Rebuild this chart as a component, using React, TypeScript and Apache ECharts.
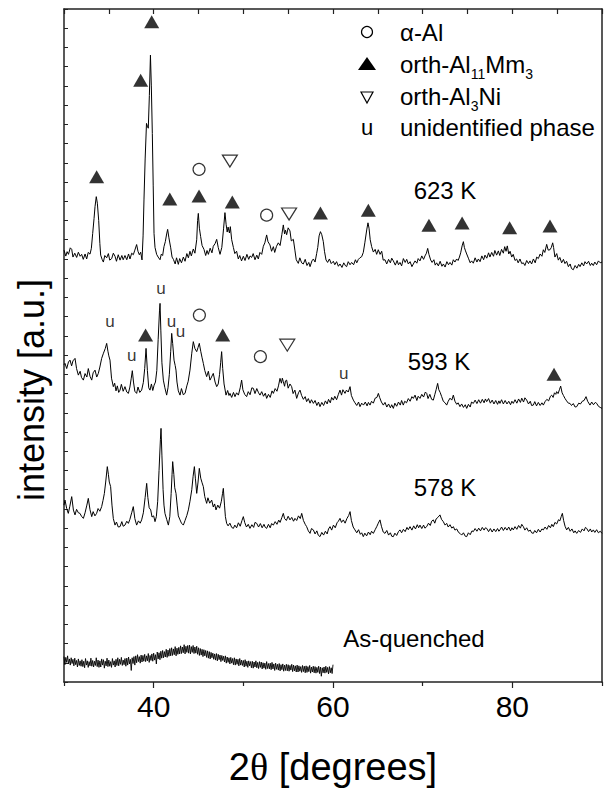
import React, { useEffect, useRef } from "react";
import * as echarts from "echarts";

const FONT = "'Liberation Sans', Arial, Helvetica, sans-serif";

// 2theta range and tick labels
const xMin = 30;
const xMax = 90;
const xLabelValues = [40, 60, 80];
const xMinorBottom = [30, 50, 70, 90];

// [2theta, intensity] pairs (intensity in arbitrary units, stacked offsets included)
const trace623: [number, number][] = [
  [30.0, 224.6], [30.2, 221.5], [30.35, 223.8], [30.5, 222.4], [30.7, 225.8], [30.86, 225.0], [31.0, 221.0], [31.2, 223.0], [31.41, 220.8], [31.6, 223.5], [31.8, 221.4], [31.97, 222.4], [32.15, 219.8], [32.35, 222.6], [32.53, 220.0], [32.7, 223.4], [32.9, 222.5], [33.05, 225.5], [33.2, 233.3], [33.35, 241.0], [33.46, 247.2], [33.6, 252.4], [33.72, 249.0], [33.87, 240.0], [34.0, 228.0], [34.09, 222.0], [34.25, 219.8], [34.39, 218.4], [34.55, 221.8], [34.76, 220.6], [34.95, 222.8], [35.1, 219.4], [35.32, 220.2], [35.5, 223.0], [35.69, 221.4], [35.85, 218.8], [36.05, 222.2], [36.25, 219.4], [36.45, 221.8], [36.6, 219.6], [36.8, 221.8], [37.0, 219.6], [37.2, 222.6], [37.36, 220.0], [37.55, 223.0], [37.73, 222.2], [37.9, 224.6], [38.1, 227.5], [38.25, 224.0], [38.4, 222.2], [38.55, 223.5], [38.7, 219.5], [38.82, 232.0], [38.92, 250.7], [39.05, 272.0], [39.2, 290.5], [39.3, 289.0], [39.4, 288.0], [39.52, 305.0], [39.64, 326.0], [39.74, 310.0], [39.85, 285.3], [39.95, 258.0], [40.04, 233.3], [40.15, 226.0], [40.33, 222.4], [40.5, 221.0], [40.71, 219.6], [40.85, 222.5], [41.0, 221.8], [41.15, 226.4], [41.3, 229.0], [41.45, 233.0], [41.56, 235.4], [41.7, 231.0], [41.9, 225.8], [42.05, 221.0], [42.2, 219.8], [42.4, 217.4], [42.55, 220.6], [42.75, 217.2], [42.9, 220.2], [43.1, 218.0], [43.31, 221.0], [43.5, 218.8], [43.7, 222.8], [43.87, 220.6], [44.05, 224.0], [44.2, 221.6], [44.42, 225.2], [44.6, 223.0], [44.8, 230.0], [44.9, 240.0], [44.98, 243.7], [45.1, 236.0], [45.24, 231.6], [45.4, 227.0], [45.61, 225.0], [45.8, 221.8], [45.95, 224.4], [46.1, 222.4], [46.3, 225.6], [46.5, 223.2], [46.65, 226.6], [46.85, 228.0], [47.03, 230.2], [47.2, 226.0], [47.4, 222.4], [47.6, 226.0], [47.8, 236.0], [47.95, 244.1], [48.08, 238.0], [48.2, 234.0], [48.3, 236.6], [48.45, 233.5], [48.55, 236.8], [48.7, 230.0], [48.89, 226.0], [49.05, 222.8], [49.25, 224.0], [49.44, 220.0], [49.6, 221.8], [49.8, 219.0], [50.0, 221.4], [50.19, 219.2], [50.4, 222.4], [50.6, 219.8], [50.75, 221.6], [50.93, 220.8], [51.1, 222.8], [51.3, 219.6], [51.5, 222.0], [51.67, 220.0], [51.85, 223.4], [52.05, 222.4], [52.23, 226.6], [52.4, 228.4], [52.6, 232.5], [52.75, 229.0], [52.97, 227.3], [53.15, 224.0], [53.35, 226.4], [53.5, 223.4], [53.7, 226.6], [53.9, 228.4], [54.1, 227.0], [54.3, 232.8], [54.46, 237.7], [54.6, 233.0], [54.7, 235.0], [54.83, 232.6], [55.0, 236.2], [55.2, 234.6], [55.35, 229.4], [55.58, 230.2], [55.75, 224.6], [55.9, 219.6], [56.13, 217.7], [56.3, 220.6], [56.5, 218.0], [56.69, 217.4], [56.9, 219.8], [57.1, 216.6], [57.3, 218.2], [57.44, 216.0], [57.65, 219.0], [57.81, 220.0], [58.0, 218.4], [58.18, 222.9], [58.3, 226.0], [58.45, 232.0], [58.6, 234.2], [58.75, 232.6], [58.92, 229.0], [59.05, 224.0], [59.22, 219.5], [59.4, 218.2], [59.6, 220.0], [59.8, 217.6], [60.04, 218.8], [60.2, 217.0], [60.4, 218.6], [60.6, 216.2], [60.78, 217.4], [61.0, 215.6], [61.2, 218.0], [61.4, 216.4], [61.52, 216.0], [61.7, 218.6], [61.9, 217.0], [62.08, 218.2], [62.3, 217.0], [62.5, 219.6], [62.65, 218.0], [62.83, 219.8], [63.0, 220.6], [63.2, 221.2], [63.38, 223.4], [63.55, 228.4], [63.76, 235.1], [63.9, 238.8], [64.02, 236.0], [64.15, 230.0], [64.31, 226.4], [64.5, 223.6], [64.7, 225.0], [64.87, 222.4], [65.05, 224.8], [65.25, 222.4], [65.43, 224.0], [65.6, 219.4], [65.8, 219.6], [65.99, 217.4], [66.2, 219.8], [66.4, 218.0], [66.55, 220.4], [66.73, 219.0], [66.95, 216.8], [67.15, 219.2], [67.3, 217.0], [67.47, 218.2], [67.65, 216.4], [67.85, 220.2], [68.05, 218.2], [68.22, 219.8], [68.4, 217.4], [68.6, 218.6], [68.8, 216.0], [68.96, 217.4], [69.15, 219.0], [69.35, 217.8], [69.5, 220.2], [69.7, 219.0], [69.9, 221.6], [70.1, 219.8], [70.26, 221.6], [70.42, 223.0], [70.56, 225.5], [70.7, 222.4], [70.89, 219.5], [71.05, 218.2], [71.25, 219.6], [71.4, 216.8], [71.56, 218.0], [71.75, 216.4], [71.95, 218.8], [72.15, 216.2], [72.31, 217.4], [72.5, 215.8], [72.7, 218.6], [72.88, 217.0], [73.05, 218.2], [73.25, 216.8], [73.42, 219.6], [73.6, 218.4], [73.79, 220.0], [73.95, 219.2], [74.1, 221.0], [74.24, 223.2], [74.4, 226.8], [74.54, 229.0], [74.65, 226.0], [74.78, 224.2], [74.91, 222.6], [75.1, 220.4], [75.3, 218.0], [75.46, 219.0], [75.65, 217.8], [75.85, 220.6], [76.05, 218.4], [76.21, 220.0], [76.4, 218.6], [76.6, 221.6], [76.8, 219.6], [76.95, 222.0], [77.15, 220.4], [77.35, 223.2], [77.5, 221.0], [77.7, 223.4], [77.9, 221.4], [78.05, 224.4], [78.25, 222.0], [78.44, 224.2], [78.6, 221.8], [78.8, 225.0], [79.0, 223.0], [79.15, 226.4], [79.3, 224.0], [79.44, 226.8], [79.6, 222.6], [79.75, 224.0], [79.93, 221.0], [80.1, 222.4], [80.3, 219.2], [80.48, 220.0], [80.65, 218.0], [80.85, 220.0], [81.05, 217.6], [81.23, 218.0], [81.4, 216.6], [81.6, 219.2], [81.8, 217.6], [81.97, 219.0], [82.15, 217.4], [82.35, 220.0], [82.55, 218.0], [82.72, 221.0], [82.9, 220.2], [83.1, 222.6], [83.3, 221.4], [83.46, 224.8], [83.62, 223.4], [83.83, 227.6], [84.0, 224.6], [84.2, 224.8], [84.35, 226.0], [84.5, 228.4], [84.6, 226.0], [84.75, 221.0], [84.95, 222.8], [85.13, 219.4], [85.3, 220.8], [85.5, 218.0], [85.7, 219.8], [85.87, 217.6], [86.05, 218.8], [86.25, 216.0], [86.45, 217.4], [86.6, 215.0], [86.8, 214.4], [87.0, 216.6], [87.2, 215.2], [87.4, 217.2], [87.55, 216.0], [87.75, 218.0], [87.95, 216.4], [88.1, 218.6], [88.29, 217.4], [88.5, 218.8], [88.7, 216.6], [88.85, 217.8], [89.03, 216.6], [89.2, 218.4], [89.4, 217.0], [89.6, 219.0], [89.8, 218.0], [90.0, 218.4],
];

const trace593: [number, number][] = [
  [30.0, 165.0], [30.11, 165.7], [30.3, 163.0], [30.5, 166.4], [30.67, 167.4], [30.85, 164.4], [31.0, 167.0], [31.23, 168.3], [31.4, 163.0], [31.6, 159.6], [31.8, 161.6], [31.95, 158.4], [32.16, 157.0], [32.35, 160.4], [32.55, 158.6], [32.71, 163.0], [32.9, 159.0], [33.09, 157.0], [33.25, 160.8], [33.46, 162.2], [33.65, 158.6], [33.83, 160.5], [34.0, 163.8], [34.2, 168.3], [34.4, 171.0], [34.6, 173.4], [34.76, 176.1], [34.9, 172.0], [35.0, 169.6], [35.13, 167.4], [35.3, 158.0], [35.5, 153.6], [35.65, 155.4], [35.8, 151.4], [35.95, 154.0], [36.1, 150.6], [36.25, 151.8], [36.4, 154.8], [36.6, 151.2], [36.8, 153.6], [37.0, 150.8], [37.18, 150.1], [37.35, 153.4], [37.5, 158.0], [37.62, 161.9], [37.75, 156.0], [37.9, 151.2], [38.1, 150.1], [38.25, 153.4], [38.45, 150.6], [38.66, 151.8], [38.85, 155.8], [39.0, 163.0], [39.15, 173.5], [39.3, 162.0], [39.45, 153.0], [39.59, 151.8], [39.75, 155.0], [39.9, 151.6], [40.05, 154.4], [40.2, 156.0], [40.35, 162.0], [40.5, 178.0], [40.65, 193.0], [40.71, 196.9], [40.8, 183.0], [40.92, 166.0], [41.08, 157.0], [41.25, 153.0], [41.45, 149.2], [41.6, 153.0], [41.75, 160.0], [41.9, 172.0], [42.01, 181.3], [42.12, 176.0], [42.27, 167.4], [42.4, 164.6], [42.49, 162.2], [42.6, 156.0], [42.75, 151.4], [42.94, 149.2], [43.1, 152.6], [43.3, 149.4], [43.5, 150.1], [43.7, 154.0], [43.85, 156.4], [44.05, 162.2], [44.25, 171.0], [44.42, 177.0], [44.6, 173.4], [44.8, 171.8], [44.95, 174.0], [45.09, 176.1], [45.25, 172.0], [45.4, 168.6], [45.54, 165.7], [45.7, 162.0], [45.91, 158.8], [46.1, 161.6], [46.28, 157.0], [46.45, 158.6], [46.65, 160.5], [46.85, 156.0], [47.03, 153.6], [47.2, 155.0], [47.35, 160.0], [47.47, 166.0], [47.58, 171.8], [47.7, 163.0], [47.85, 155.0], [48.07, 149.2], [48.25, 151.6], [48.4, 149.0], [48.51, 150.1], [48.7, 148.0], [48.9, 150.6], [49.07, 148.4], [49.25, 150.4], [49.45, 149.2], [49.65, 153.0], [49.81, 157.0], [49.95, 152.0], [50.15, 149.6], [50.37, 148.4], [50.55, 151.0], [50.75, 149.4], [50.95, 153.0], [51.12, 152.7], [51.3, 150.0], [51.5, 152.6], [51.7, 150.4], [51.86, 149.2], [52.05, 151.0], [52.25, 148.6], [52.45, 150.2], [52.6, 147.5], [52.8, 149.6], [53.0, 148.0], [53.2, 151.4], [53.35, 150.1], [53.55, 152.6], [53.75, 151.2], [53.92, 154.0], [54.09, 157.9], [54.25, 155.4], [54.35, 158.0], [54.46, 156.2], [54.6, 153.8], [54.7, 156.6], [54.83, 157.0], [55.0, 152.8], [55.2, 155.0], [55.39, 153.6], [55.55, 150.0], [55.75, 151.8], [55.95, 147.5], [56.15, 150.4], [56.32, 151.8], [56.5, 149.0], [56.7, 147.0], [56.9, 148.4], [57.06, 145.8], [57.25, 147.4], [57.44, 145.0], [57.6, 146.8], [57.81, 144.9], [58.0, 146.4], [58.2, 143.8], [58.38, 145.6], [58.55, 143.2], [58.75, 145.4], [58.95, 143.8], [59.15, 146.2], [59.35, 144.6], [59.5, 147.0], [59.7, 145.2], [59.85, 148.0], [60.04, 146.6], [60.2, 148.6], [60.4, 146.8], [60.6, 149.6], [60.78, 151.8], [60.95, 149.2], [61.1, 152.0], [61.34, 150.1], [61.5, 151.8], [61.7, 150.8], [61.9, 153.6], [62.05, 149.0], [62.27, 146.6], [62.45, 145.2], [62.65, 143.8], [62.85, 145.6], [63.01, 143.2], [63.2, 145.0], [63.4, 144.0], [63.6, 145.6], [63.8, 143.6], [63.95, 145.4], [64.13, 144.0], [64.3, 146.0], [64.5, 145.0], [64.7, 147.6], [64.9, 148.0], [65.06, 150.1], [65.2, 148.0], [65.4, 145.6], [65.61, 144.0], [65.8, 145.4], [66.0, 143.0], [66.2, 144.6], [66.4, 142.6], [66.55, 144.2], [66.73, 142.3], [66.9, 145.0], [67.1, 143.4], [67.3, 145.6], [67.5, 144.0], [67.65, 146.4], [67.84, 144.0], [68.0, 146.0], [68.2, 145.2], [68.4, 147.4], [68.6, 146.0], [68.8, 148.4], [68.96, 147.5], [69.15, 149.2], [69.35, 146.4], [69.5, 148.6], [69.7, 147.5], [69.9, 149.6], [70.1, 148.2], [70.3, 150.8], [70.45, 150.1], [70.6, 147.4], [70.8, 149.6], [71.0, 147.0], [71.19, 146.6], [71.35, 149.4], [71.5, 152.0], [71.67, 155.3], [71.8, 152.0], [71.95, 150.6], [72.12, 148.4], [72.3, 146.0], [72.5, 145.2], [72.68, 144.0], [72.85, 146.0], [73.05, 147.6], [73.25, 146.6], [73.42, 149.2], [73.6, 146.0], [73.8, 144.4], [73.95, 145.2], [74.16, 143.2], [74.35, 144.6], [74.55, 142.8], [74.75, 144.2], [74.91, 142.3], [75.1, 144.4], [75.3, 143.0], [75.45, 145.6], [75.65, 144.9], [75.85, 146.6], [76.05, 144.8], [76.25, 146.8], [76.45, 145.0], [76.65, 147.0], [76.85, 145.2], [77.0, 147.2], [77.14, 145.8], [77.35, 147.4], [77.55, 145.0], [77.75, 146.6], [77.95, 144.6], [78.15, 146.4], [78.35, 144.4], [78.5, 146.2], [78.62, 144.9], [78.8, 146.8], [79.0, 144.6], [79.2, 146.4], [79.4, 144.6], [79.6, 146.0], [79.8, 144.2], [79.95, 146.0], [80.11, 144.9], [80.3, 146.8], [80.5, 145.0], [80.7, 147.2], [80.9, 145.4], [81.05, 147.6], [81.25, 145.6], [81.4, 147.8], [81.6, 146.6], [81.8, 144.6], [82.0, 146.0], [82.15, 143.8], [82.34, 144.0], [82.5, 145.8], [82.7, 143.6], [82.9, 145.4], [83.1, 143.8], [83.3, 145.2], [83.46, 144.0], [83.65, 145.8], [83.85, 147.0], [84.05, 146.2], [84.25, 148.6], [84.39, 149.2], [84.55, 148.0], [84.7, 150.4], [84.85, 149.6], [84.94, 151.0], [85.1, 150.0], [85.25, 152.0], [85.39, 153.9], [85.55, 150.4], [85.7, 149.0], [85.87, 147.5], [86.05, 146.2], [86.25, 145.0], [86.43, 144.9], [86.6, 143.8], [86.8, 144.8], [87.0, 143.0], [87.18, 143.2], [87.4, 145.0], [87.6, 144.6], [87.8, 146.0], [88.0, 146.4], [88.22, 148.4], [88.4, 146.0], [88.66, 144.0], [88.85, 145.6], [89.05, 144.2], [89.25, 145.4], [89.41, 144.9], [89.6, 143.4], [89.8, 142.8], [90.0, 142.3],
];

const trace578: [number, number][] = [
  [30.0, 92.0], [30.11, 94.6], [30.3, 90.2], [30.48, 87.7], [30.65, 91.4], [30.86, 96.4], [31.05, 89.4], [31.23, 86.9], [31.4, 89.8], [31.6, 88.0], [31.78, 87.7], [31.95, 86.2], [32.16, 85.1], [32.35, 88.0], [32.55, 92.0], [32.71, 95.5], [32.9, 89.6], [33.09, 86.0], [33.25, 88.6], [33.45, 86.4], [33.64, 87.7], [33.8, 90.2], [34.0, 88.8], [34.2, 91.2], [34.35, 94.4], [34.5, 98.0], [34.65, 104.0], [34.83, 112.0], [34.95, 108.0], [35.05, 104.0], [35.2, 101.6], [35.35, 92.0], [35.5, 85.0], [35.69, 81.6], [35.85, 83.2], [36.05, 80.6], [36.25, 80.8], [36.45, 83.4], [36.6, 81.0], [36.8, 81.6], [37.0, 83.6], [37.18, 82.5], [37.35, 84.6], [37.55, 88.0], [37.73, 91.2], [37.9, 85.0], [38.1, 81.6], [38.3, 83.8], [38.5, 82.6], [38.66, 84.3], [38.85, 88.0], [39.05, 96.0], [39.22, 103.3], [39.35, 96.0], [39.5, 90.6], [39.67, 89.5], [39.82, 85.8], [40.0, 86.4], [40.15, 83.4], [40.3, 86.0], [40.45, 94.0], [40.6, 110.0], [40.75, 126.0], [40.82, 131.9], [40.92, 118.0], [41.05, 100.0], [41.15, 92.0], [41.26, 87.7], [41.45, 84.6], [41.64, 81.6], [41.8, 86.0], [41.95, 98.0], [42.05, 108.0], [42.12, 114.6], [42.25, 108.0], [42.35, 101.0], [42.49, 98.1], [42.62, 92.0], [42.75, 86.4], [42.94, 84.3], [43.1, 82.6], [43.31, 81.6], [43.5, 84.0], [43.7, 86.6], [43.87, 89.5], [44.05, 94.0], [44.25, 100.0], [44.4, 107.0], [44.54, 112.0], [44.65, 106.0], [44.8, 98.1], [44.95, 104.0], [45.09, 111.1], [45.25, 106.0], [45.4, 103.6], [45.54, 101.6], [45.7, 96.4], [45.91, 92.9], [46.05, 95.8], [46.25, 93.0], [46.47, 94.6], [46.65, 91.0], [46.8, 92.6], [46.95, 89.5], [47.15, 92.0], [47.35, 90.4], [47.55, 94.0], [47.68, 98.0], [47.77, 100.7], [47.9, 92.0], [48.0, 86.0], [48.14, 82.5], [48.3, 81.2], [48.5, 82.6], [48.7, 80.4], [48.89, 79.9], [49.05, 81.6], [49.25, 80.2], [49.45, 82.8], [49.65, 81.0], [49.85, 84.0], [50.0, 86.0], [50.15, 83.0], [50.35, 80.6], [50.55, 82.0], [50.74, 79.9], [50.95, 81.8], [51.15, 80.4], [51.3, 83.0], [51.49, 82.5], [51.7, 80.6], [51.9, 82.4], [52.1, 80.2], [52.3, 82.0], [52.45, 80.4], [52.6, 79.9], [52.8, 82.0], [53.0, 80.2], [53.15, 82.4], [53.35, 81.6], [53.55, 83.4], [53.75, 82.0], [53.95, 84.2], [54.1, 83.0], [54.3, 85.6], [54.46, 87.7], [54.6, 85.0], [54.8, 84.0], [55.0, 86.2], [55.2, 84.3], [55.4, 85.6], [55.6, 83.6], [55.76, 85.1], [55.95, 84.0], [56.15, 86.4], [56.35, 85.0], [56.51, 87.7], [56.7, 84.0], [56.9, 82.0], [57.06, 80.8], [57.25, 78.6], [57.44, 77.3], [57.6, 79.8], [57.81, 79.1], [58.0, 77.0], [58.2, 78.6], [58.35, 76.4], [58.55, 75.6], [58.75, 77.8], [58.95, 76.4], [59.15, 78.4], [59.35, 77.0], [59.5, 79.6], [59.67, 80.8], [59.85, 79.0], [60.05, 81.6], [60.25, 80.2], [60.45, 82.8], [60.6, 83.6], [60.78, 85.1], [60.95, 83.0], [61.15, 84.3], [61.35, 82.6], [61.55, 85.0], [61.75, 86.6], [61.9, 88.6], [62.05, 84.0], [62.25, 80.6], [62.45, 79.1], [62.65, 77.6], [62.85, 79.2], [63.05, 76.8], [63.2, 77.6], [63.38, 75.6], [63.55, 77.4], [63.75, 76.0], [63.95, 78.0], [64.15, 76.6], [64.3, 78.4], [64.5, 77.3], [64.7, 79.2], [64.9, 81.0], [65.05, 82.6], [65.24, 84.3], [65.4, 81.0], [65.6, 78.0], [65.8, 77.3], [66.0, 78.8], [66.2, 76.4], [66.4, 77.6], [66.55, 75.8], [66.73, 75.6], [66.9, 77.4], [67.1, 76.2], [67.3, 78.2], [67.47, 79.1], [67.65, 77.6], [67.85, 79.4], [68.05, 78.2], [68.25, 80.4], [68.4, 79.2], [68.59, 80.8], [68.8, 79.0], [69.0, 81.2], [69.2, 79.6], [69.4, 81.8], [69.55, 80.2], [69.7, 81.6], [69.9, 79.8], [70.1, 81.6], [70.25, 80.0], [70.45, 80.8], [70.65, 82.6], [70.85, 81.4], [71.0, 83.6], [71.19, 84.3], [71.35, 82.6], [71.5, 84.8], [71.7, 85.6], [71.93, 86.9], [72.1, 84.6], [72.3, 83.4], [72.5, 81.6], [72.68, 82.5], [72.85, 80.6], [73.05, 81.8], [73.25, 80.0], [73.42, 80.8], [73.6, 79.0], [73.8, 79.6], [74.0, 77.8], [74.16, 77.3], [74.35, 76.4], [74.55, 77.6], [74.75, 75.8], [74.91, 75.6], [75.1, 77.6], [75.3, 76.6], [75.5, 78.6], [75.65, 78.2], [75.85, 79.8], [76.05, 78.4], [76.25, 80.0], [76.45, 78.6], [76.65, 80.4], [76.85, 79.0], [77.0, 80.2], [77.14, 79.9], [77.35, 78.2], [77.55, 79.8], [77.75, 78.0], [77.95, 79.6], [78.15, 78.2], [78.35, 79.8], [78.5, 78.4], [78.62, 79.1], [78.8, 80.6], [79.0, 78.8], [79.2, 80.4], [79.4, 79.0], [79.6, 80.6], [79.8, 78.6], [79.95, 80.2], [80.11, 79.1], [80.3, 80.8], [80.5, 79.4], [80.7, 81.4], [80.9, 80.0], [81.05, 82.0], [81.23, 80.8], [81.4, 79.0], [81.6, 80.2], [81.8, 78.4], [82.0, 79.0], [82.15, 77.6], [82.34, 77.3], [82.5, 78.8], [82.7, 77.6], [82.9, 79.4], [83.1, 78.0], [83.3, 79.6], [83.46, 79.1], [83.65, 80.6], [83.85, 79.4], [84.05, 81.4], [84.25, 80.2], [84.4, 82.0], [84.57, 80.8], [84.75, 83.0], [84.95, 82.2], [85.15, 84.4], [85.3, 83.8], [85.45, 86.0], [85.58, 87.7], [85.72, 84.0], [85.88, 81.0], [86.06, 79.1], [86.25, 80.4], [86.45, 78.4], [86.65, 79.6], [86.85, 77.6], [87.0, 78.6], [87.18, 77.3], [87.4, 78.8], [87.6, 77.8], [87.8, 79.6], [88.0, 78.6], [88.15, 80.4], [88.29, 79.9], [88.5, 78.2], [88.7, 79.6], [88.85, 78.0], [89.03, 79.1], [89.2, 77.8], [89.4, 79.2], [89.6, 77.6], [89.8, 78.4], [90.0, 77.3],
];

// As-quenched: measured 30..60 deg, step 0.1 deg (one row per degree)
const asqStart = 30;
const asqStep = 0.1;
const asQuenchedY = [
  13.2, 9.0, 12.8, 10.2, 13.6, 9.4, 12.0, 8.8, 12.6, 9.6,
  11.8, 8.4, 12.4, 9.0, 11.2, 7.8, 12.0, 8.6, 11.0, 8.2,
  11.6, 8.0, 10.8, 7.4, 12.2, 8.8, 11.0, 7.6, 10.6, 8.4,
  12.4, 8.2, 11.2, 7.8, 10.8, 8.6, 12.6, 8.0, 11.4, 7.6,
  11.0, 7.8, 12.0, 8.8, 11.6, 7.2, 10.8, 8.4, 12.4, 8.0,
  11.4, 8.2, 10.6, 7.6, 12.2, 8.8, 11.0, 7.8, 11.8, 8.6,
  12.6, 8.4, 11.8, 9.2, 12.8, 8.6, 11.4, 9.0, 12.2, 8.2,
  12.4, 8.8, 13.0, 9.4, 11.8, 6.0, 12.6, 9.6, 13.2, 8.8,
  13.6, 10.0, 14.2, 10.6, 13.2, 9.8, 14.0, 10.4, 13.8, 10.8,
  14.4, 10.6, 13.6, 11.0, 14.8, 10.2, 13.8, 11.2, 14.6, 10.8,
  15.0, 11.4, 14.2, 9.4, 15.6, 12.0, 15.2, 11.6, 16.0, 12.4,
  16.4, 12.6, 15.8, 13.0, 17.0, 12.8, 16.6, 13.4, 17.4, 13.6,
  17.8, 13.8, 17.2, 14.2, 18.4, 13.6, 17.6, 14.4, 18.0, 14.6,
  18.8, 14.8, 18.2, 15.2, 19.4, 14.6, 18.6, 15.4, 19.0, 15.0,
  19.2, 14.6, 18.4, 15.4, 19.0, 14.8, 18.2, 15.0, 18.6, 14.4,
  17.8, 13.8, 17.4, 14.0, 17.0, 13.2, 16.8, 13.6, 16.4, 12.8,
  16.2, 12.4, 15.8, 12.0, 15.4, 12.6, 15.0, 11.8, 14.6, 11.4,
  14.8, 11.0, 14.4, 11.6, 14.0, 10.6, 13.8, 11.2, 13.4, 10.4,
  13.6, 9.8, 13.0, 10.2, 12.6, 9.4, 12.8, 9.8, 12.2, 9.0,
  12.6, 8.8, 12.0, 9.2, 11.8, 8.4, 12.2, 8.8, 11.4, 8.6,
  11.2, 7.8, 11.6, 8.2, 10.8, 7.6, 11.0, 8.4, 10.6, 7.4,
  10.8, 7.2, 10.4, 7.8, 11.0, 7.4, 10.2, 7.0, 10.6, 7.6,
  10.4, 6.8, 10.0, 7.2, 9.8, 6.6, 10.6, 7.0, 9.6, 6.8,
  9.8, 6.4, 10.2, 6.8, 9.4, 6.0, 9.8, 6.6, 9.2, 6.2,
  9.6, 5.8, 9.0, 6.4, 9.4, 5.6, 8.8, 6.0, 9.2, 5.8,
  9.0, 5.6, 8.6, 6.2, 9.2, 5.4, 8.8, 5.8, 8.4, 5.2,
  8.8, 5.2, 8.4, 5.6, 8.0, 5.0, 8.6, 5.4, 8.2, 4.8,
  8.4, 5.0, 8.0, 5.4, 8.6, 4.6, 7.8, 5.2, 8.2, 4.8,
  8.0, 4.6, 7.6, 5.0, 8.2, 4.4, 7.8, 3.0, 7.4, 4.8,
  7.8, 4.6, 8.2, 5.0, 7.6, 4.2, 8.0, 4.8, 7.4, 4.4,
  9.0,
];

// Phase markers [2theta, height]
const triFilled623: [number, number][] = [
  [33.64, 262.8], [38.55, 313], [39.78, 343.4], [41.8, 251.2], [45.06, 252.7], [48.77, 249.6],
  [58.6, 243.9], [63.94, 245.4], [70.7, 237.6], [74.4, 238.7], [79.7, 236.2], [84.2, 237.1],
];
const triFilled593: [number, number][] = [[39.1, 180.4], [47.7, 180.4], [84.65, 160]];
const circles: [number, number][] = [[45.06, 266.6], [52.6, 242.8], [45.1, 190.8], [51.9, 169.2]];
const downTris: [number, number][] = [[48.5, 270.9], [55.1, 243.4], [54.9, 175.2]];
const unidentified: [number, number][] = [
  [35.13, 187.3], [37.55, 170], [40.82, 204.7], [42.0, 187.3], [43.0, 182.2], [61.2, 160.5],
];

const sampleLabels = ["623 K", "593 K", "578 K", "As-quenched"];
const legendLabels = ["α-Al", "orth-Al11Mm3", "orth-Al3Ni", "unidentified phase"];

export default function App() {
  const ref = useRef<HTMLDivElement>(null);

  useEffect(() => {
    if (!ref.current) return;
    const chart = echarts.init(ref.current, null, { renderer: "svg" });

    const asQuenched = asQuenchedY.map((v, i) => [
      Math.round((asqStart + i * asqStep) * 100) / 100,
      v,
    ]);

    const axisLineStyle = { color: "#222", width: 1.5 };
    const lineSeries = (name: string, data: number[][], width = 1) => ({
      name,
      type: "line",
      data,
      showSymbol: false,
      symbol: "none",
      lineStyle: { color: "#000", width },
      z: 2,
      silent: true,
    });

    const option: any = {
      animation: false,
      textStyle: { fontFamily: FONT },
      grid: { left: 64, right: 2, top: 9, bottom: 112 },
      xAxis: [
        {
          type: "value",
          position: "bottom",
          min: xMin,
          max: xMax,
          interval: 10,
          axisLine: { show: true, lineStyle: axisLineStyle },
          axisTick: { show: true, inside: false, length: 6, customValues: xLabelValues, lineStyle: { color: "#222", width: 1.2 } },
          axisLabel: { show: true, customValues: xLabelValues, fontSize: 30, color: "#000", margin: 9, fontFamily: FONT },
          splitLine: { show: false },
        },
        {
          type: "value",
          position: "bottom",
          min: xMin,
          max: xMax,
          interval: 10,
          axisLine: { show: false },
          axisTick: { show: true, inside: false, length: 4, customValues: xMinorBottom, lineStyle: { color: "#222", width: 1.2 } },
          axisLabel: { show: false },
          splitLine: { show: false },
        },
        {
          type: "value",
          position: "top",
          min: xMin,
          max: xMax,
          interval: 5,
          axisLine: { show: true, lineStyle: axisLineStyle },
          axisTick: { show: true, inside: true, length: 5, lineStyle: { color: "#222", width: 1.2 } },
          axisLabel: { show: false },
          splitLine: { show: false },
        },
      ],
      yAxis: [
        {
          type: "value",
          position: "left",
          min: 0,
          max: 350,
          interval: 10,
          axisLine: { show: true, lineStyle: axisLineStyle },
          axisTick: { show: true, inside: true, length: 4, lineStyle: { color: "#222", width: 1 } },
          axisLabel: { show: false },
          splitLine: { show: false },
        },
        {
          type: "value",
          position: "right",
          min: 0,
          max: 350,
          interval: 10,
          axisLine: { show: true, lineStyle: axisLineStyle },
          axisTick: { show: false },
          axisLabel: { show: false },
          splitLine: { show: false },
        },
      ],
      series: [
        lineSeries("623 K", trace623),
        lineSeries("593 K", trace593),
        lineSeries("578 K", trace578),
        lineSeries("As-quenched", asQuenched, 0.9),
        {
          name: "orth-Al11Mm3",
          type: "scatter",
          data: [...triFilled623, ...triFilled593],
          symbol: "triangle",
          symbolSize: [15, 13],
          itemStyle: { color: "#000" },
          z: 5,
        },
        {
          name: "α-Al",
          type: "scatter",
          data: circles,
          symbol: "circle",
          symbolSize: 12,
          itemStyle: { color: "#fff", borderColor: "#000", borderWidth: 1.2 },
          z: 5,
        },
        {
          name: "orth-Al3Ni",
          type: "scatter",
          data: downTris,
          symbol: "triangle",
          symbolRotate: 180,
          symbolSize: [15, 12],
          itemStyle: { color: "#fff", borderColor: "#000", borderWidth: 1.2 },
          z: 5,
        },
        {
          name: "unidentified phase",
          type: "scatter",
          data: unidentified,
          symbol: "circle",
          symbolSize: 2,
          itemStyle: { color: "rgba(255,255,255,0)" },
          label: {
            show: true,
            position: "inside",
            formatter: "u",
            fontSize: 17,
            color: "#000",
            fontFamily: FONT,
          },
          z: 6,
        },
      ],
      graphic: [
        // sample labels
        { type: "text", x: 445, y: 190, style: { text: sampleLabels[0], fontSize: 24, fontFamily: FONT, fill: "#000", align: "center", verticalAlign: "middle" } },
        { type: "text", x: 439, y: 361, style: { text: sampleLabels[1], fontSize: 24, fontFamily: FONT, fill: "#000", align: "center", verticalAlign: "middle" } },
        { type: "text", x: 445, y: 487, style: { text: sampleLabels[2], fontSize: 24, fontFamily: FONT, fill: "#000", align: "center", verticalAlign: "middle" } },
        { type: "text", x: 414, y: 638, style: { text: sampleLabels[3], fontSize: 24, fontFamily: FONT, fill: "#000", align: "center", verticalAlign: "middle" } },
        // legend symbols
        { type: "circle", shape: { cx: 367, cy: 32, r: 5.5 }, style: { fill: "#fff", stroke: "#000", lineWidth: 1.2 } },
        { type: "polygon", shape: { points: [[358, 70], [376, 70], [367, 57]] }, style: { fill: "#000" } },
        { type: "polygon", shape: { points: [[361, 92], [373, 92], [367, 103]] }, style: { fill: "#fff", stroke: "#000", lineWidth: 1.2 } },
        { type: "text", x: 367, y: 127, style: { text: "u", fontSize: 22, fontFamily: FONT, fill: "#000", align: "center", verticalAlign: "middle" } },
        // legend texts
        { type: "text", x: 400, y: 32, style: { text: legendLabels[0], fontSize: 24, fontFamily: FONT, fill: "#000", align: "left", verticalAlign: "middle" } },
        {
          type: "text", x: 400, y: 64,
          style: {
            text: "{a|orth-Al}{s|11}{a|Mm}{s|3}",
            align: "left", verticalAlign: "middle", fill: "#000",
            rich: {
              a: { fontSize: 24, lineHeight: 34, fontFamily: FONT, fill: "#000" },
              s: { fontSize: 14, lineHeight: 14, fontFamily: FONT, fill: "#000", verticalAlign: "bottom" },
            },
          },
        },
        {
          type: "text", x: 400, y: 96,
          style: {
            text: "{a|orth-Al}{s|3}{a|Ni}",
            align: "left", verticalAlign: "middle", fill: "#000",
            rich: {
              a: { fontSize: 24, lineHeight: 34, fontFamily: FONT, fill: "#000" },
              s: { fontSize: 14, lineHeight: 14, fontFamily: FONT, fill: "#000", verticalAlign: "bottom" },
            },
          },
        },
        { type: "text", x: 400, y: 127, style: { text: legendLabels[3], fontSize: 24, fontFamily: FONT, fill: "#000", align: "left", verticalAlign: "middle" } },
        // axis titles
        {
          type: "text", x: 31, y: 390, rotation: Math.PI / 2,
          style: { text: "intensity [a.u.]", fontSize: 36, fontFamily: FONT, fill: "#000", align: "center", verticalAlign: "middle" },
        },
        {
          type: "text", x: 333, y: 767,
          style: {
            text: "{a|2}{t|θ}{a| [degrees]}",
            align: "center", verticalAlign: "middle", fill: "#000",
            rich: {
              a: { fontSize: 38, fontFamily: FONT, fill: "#000" },
              t: { fontSize: 38, fontFamily: "'Liberation Serif', 'Times New Roman', serif", fill: "#000" },
            },
          },
        },
      ],
    };

    chart.setOption(option);
    return () => chart.dispose();
  }, []);

  return (
    <div
      ref={ref}
      style={{ position: "fixed", left: 0, top: 0, width: 604, height: 794, background: "#fff" }}
    />
  );
}
